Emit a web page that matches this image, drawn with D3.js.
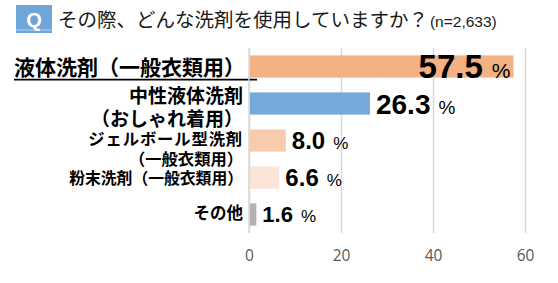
<!DOCTYPE html>
<html lang="ja">
<head>
<meta charset="UTF-8">
<script src="https://d3js.org/d3.v7.min.js"></script>
<style>
  body { margin: 0; background: #fff; }
  .gridlines .domain { display: none; }
  .gridlines line { stroke: #d9d9d9; stroke-width: 1.5; }
  .xaxis .domain, .xaxis line { display: none; }
  .xaxis text { font-family: "Open Sans", "Noto Sans", sans-serif; font-size: 15.5px; fill: #595959; }
</style>
</head>
<body>
<svg id="chart" width="558" height="283"></svg>
<script>
// data
const categories = ["liquid", "neutral", "gelball", "powder", "other"];
const categoryLines = [
  ["液体洗剤（一般衣類用）"],
  ["中性液体洗剤", "（おしゃれ着用）"],
  ["ジェルボール型洗剤", "（一般衣類用）"],
  ["粉末洗剤（一般衣類用）"],
  ["その他"]
];
const values = [57.5, 26.3, 8.0, 6.6, 1.6];
const xTicks = [0, 20, 40, 60];
const titleText = "その際、どんな洗剤を使用していますか？";
const sampleText = "(n=2,633)";

// styles
const barColors = ["#f4b183", "#76a9da", "#f8cbad", "#fbe5d6", "#b5b1b1"];
const numSizes = [33, 28, 24, 24, 22];
const pctSizes = [21, 19, 17, 17, 17];
const pctGap = [9, 8, 8, 8, 8];
const catSizes = [21, 19, 16.3, 15.8, 16.5];
const catSpacing = [0, 22.5, 20, 0, 0];
const catShift = [1, 4, 8.5, 0.5, -1.5];
const catLetter = [[0], [0, 0], [0.9, 0], [0], [0]];

const svg = d3.select("#chart");
const jp = "'Noto Sans CJK JP', sans-serif";
const num = "'Liberation Sans', Arial, sans-serif";

const x = d3.scaleLinear().domain([0, 60]).range([249, 525]);
const y = d3.scaleBand().domain(categories).range([48, 233])
  .paddingInner(0.4).paddingOuter(0.2);

// title
svg.append("rect").attr("x", 16).attr("y", 5).attr("width", 36).attr("height", 28)
  .attr("fill", "#6fa6da");
svg.append("line").attr("x1", 16).attr("x2", 52).attr("y1", 30).attr("y2", 30)
  .attr("stroke", "#b3d0ee").attr("stroke-width", 1);
svg.append("text").attr("x", 34).attr("y", 27).attr("text-anchor", "middle")
  .attr("font-family", num).attr("font-weight", "bold")
  .attr("font-size", 20).attr("fill", "#fff").text("Q");
svg.append("text").attr("x", 58).attr("y", 27)
  .attr("font-family", jp).attr("font-size", 19.5).attr("fill", "#1a1a1a")
  .text(titleText)
  .append("tspan").attr("font-family", num)
  .attr("font-size", 15.5).attr("dx", 2).text(sampleText);

// gridlines
svg.append("g").attr("class", "gridlines")
  .attr("transform", "translate(0,233)")
  .call(d3.axisBottom(x).tickValues(xTicks).tickSize(-185).tickFormat(""));

// x axis labels
svg.append("g").attr("class", "xaxis")
  .attr("transform", "translate(0,250)")
  .call(d3.axisBottom(x).tickValues(xTicks).tickSize(0).tickPadding(0));

// bars
svg.selectAll("rect.bar").data(values).join("rect")
  .attr("class", "bar")
  .attr("x", x(0) + 1)
  .attr("y", (d, i) => y(categories[i]))
  .attr("width", d => x(d) - x(0) - 1)
  .attr("height", y.bandwidth())
  .attr("fill", (d, i) => barColors[i]);

// value labels
const labels = svg.selectAll("text.val").data(values).join("text")
  .attr("class", "val")
  .attr("font-family", num)
  .attr("font-weight", "bold")
  .attr("fill", "#000")
  .attr("y", (d, i) => y(categories[i]) + y.bandwidth() / 2 + numSizes[i] * 0.36)
  .attr("x", (d, i) => i === 0 ? x(d) - 3 : x(d) + 6)
  .attr("text-anchor", (d, i) => i === 0 ? "end" : "start");
labels.append("tspan").attr("font-size", (d, i) => numSizes[i]).text(d => d.toFixed(1));
labels.append("tspan").attr("font-size", (d, i) => pctSizes[i])
  .attr("font-weight", "normal").attr("dx", (d, i) => pctGap[i]).text("%");

// category labels
categories.forEach((c, i) => {
  const lines = categoryLines[i];
  const fs = catSizes[i];
  const lh = catSpacing[i];
  const cy = y(c) + y.bandwidth() / 2 + catShift[i];
  const t = svg.append("text")
    .attr("text-anchor", "end")
    .attr("font-family", jp)
    .attr("font-weight", "bold")
    .attr("font-size", fs)
    .attr("fill", "#000");
  lines.forEach((ln, k) => {
    t.append("tspan").attr("x", i === 0 ? 245 : 243)
      .attr("y", cy + (k - (lines.length - 1) / 2) * lh + fs * 0.36)
      .attr("letter-spacing", catLetter[i][k])
      .text(ln);
  });
});

// underline on first label
svg.append("line")
  .attr("x1", 14).attr("x2", 257)
  .attr("y1", y(categories[0]) + y.bandwidth() + 2)
  .attr("y2", y(categories[0]) + y.bandwidth() + 2)
  .attr("stroke", "#000").attr("stroke-width", 1.6);

// zero axis line
svg.append("line")
  .attr("x1", x(0)).attr("x2", x(0)).attr("y1", 48).attr("y2", 233)
  .attr("stroke", "#d9d9d9").attr("stroke-width", 1.5);
</script>
</body>
</html>
